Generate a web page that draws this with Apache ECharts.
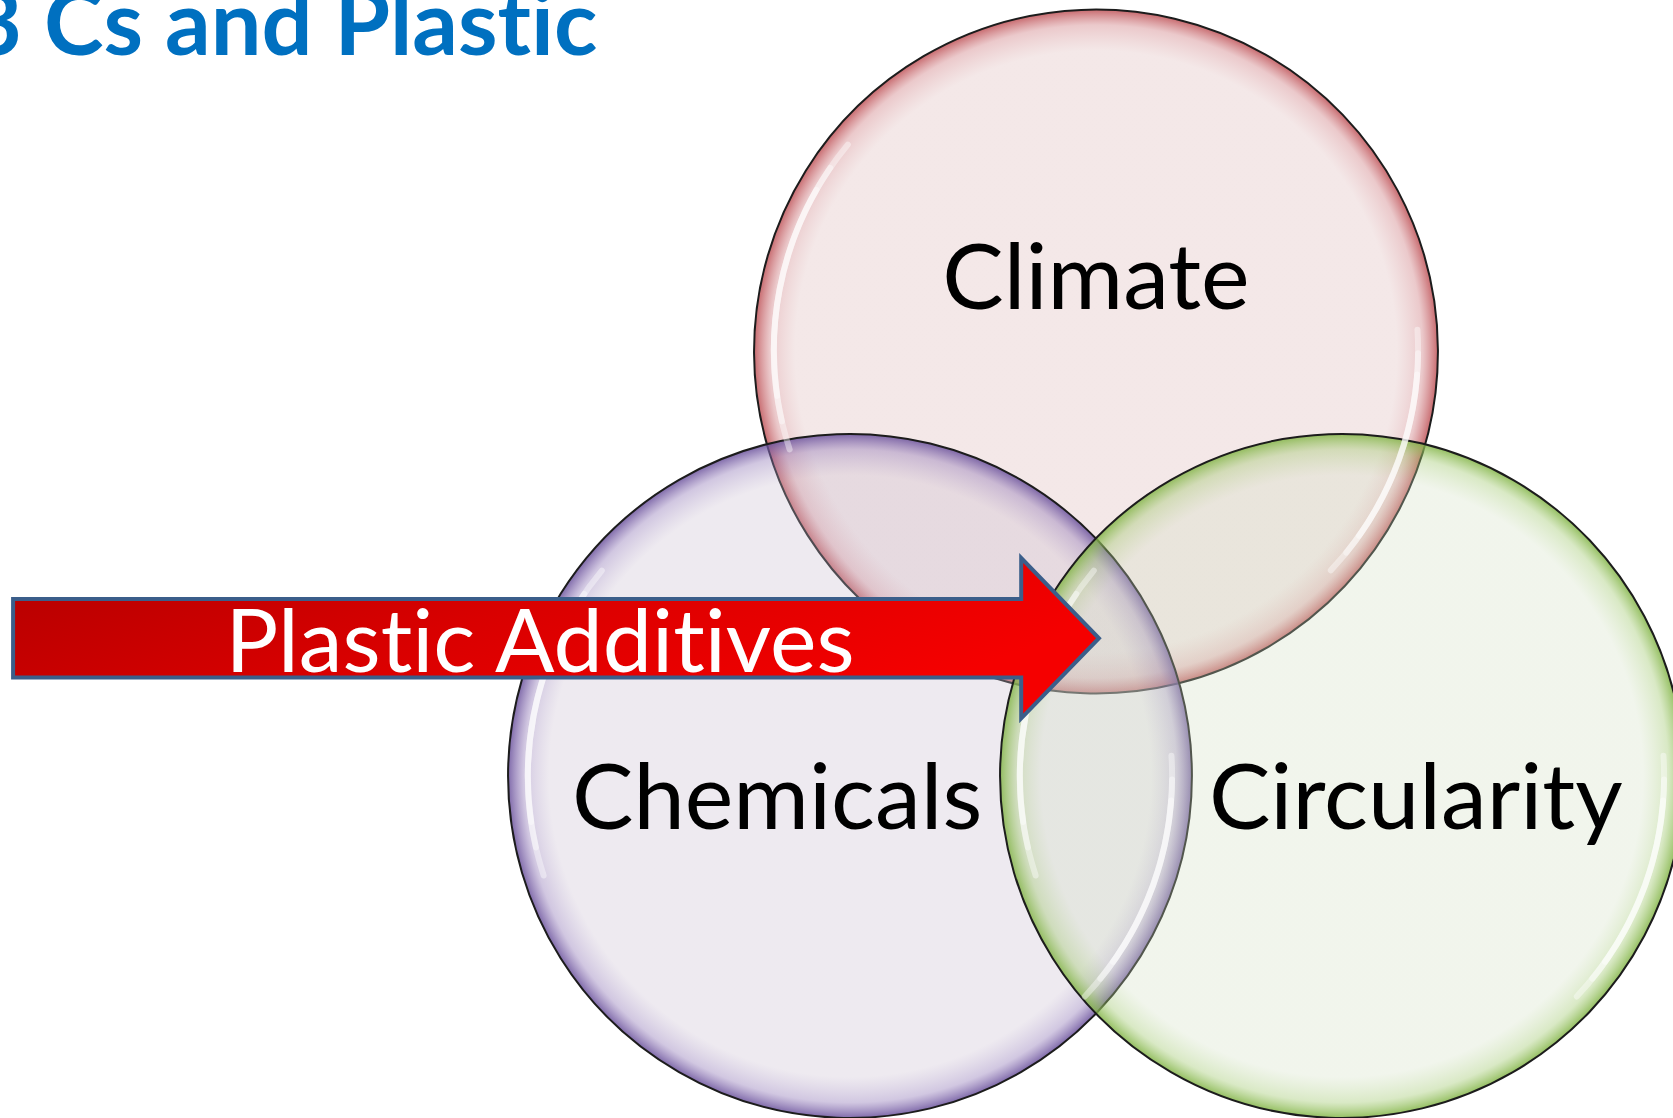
<!DOCTYPE html>
<html><head><meta charset="utf-8">
<script src="https://cdn.jsdelivr.net/npm/echarts@6/dist/echarts.min.js"></script>
<style>
html,body{margin:0;padding:0;background:#fff}
#c{width:1673px;height:1118px}
#c text{font-variant-ligatures:none !important;font-feature-settings:"liga" 0,"clig" 0 !important}
</style>
</head><body><div id="c"></div>
<script>
// ---- data (abstract Venn units) ----
const titleText = '3 Cs and Plastic';
const setNames = ['Climate', 'Chemicals', 'Circularity'];
const centerX = [0, -0.5, 0.5];
const centerY = [0.866, 0, 0];
const radius = [0.695, 0.695, 0.695];
const labelX = [0, -0.648, 0.650];
const labelY = [1.021, -0.036, -0.036];
const arrowLabel = 'Plastic Additives';
// [tailX, headBaseX, tipX, centerY, bodyHalfHeight, headHalfHeight]
const arrowShape = [-2.201, -0.152, 0.006, 0.280, 0.0800, 0.163];
const arrowLabelPos = [-1.130, 0.281];

// ---- styles ----
const innerColors = ['rgba(218,178,178,0.30)', 'rgba(198,185,205,0.30)', 'rgba(208,222,192,0.30)'];
const midColors = ['rgba(205,120,125,0.40)', 'rgba(140,115,180,0.40)', 'rgba(160,200,110,0.40)'];
const rimColors = ['rgba(190,80,85,0.85)', 'rgba(105,80,155,0.85)', 'rgba(130,180,70,0.85)'];
const FONT = 'Lato, "Open Sans", sans-serif';

const chart = echarts.init(document.getElementById('c'), null, { renderer: 'svg' });

const circleData = setNames.map((n, i) => [centerX[i], centerY[i], radius[i], labelX[i], labelY[i]]);

function glossArcs(c, r, a0, a1) {
  const out = [];
  const layers = [[0, 0.42], [0.18, 0.4], [0.34, 0.4]];
  layers.forEach(function (l) {
    const span = (a1 - a0);
    out.push({
      type: 'arc',
      shape: { cx: c[0], cy: c[1], r: r * 0.942, startAngle: a0 + span * l[0] * 0.5, endAngle: a1 - span * l[0] * 0.5 },
      style: { stroke: 'rgba(255,255,255,' + l[1] + ')', lineWidth: 6, fill: null, lineCap: 'round' },
      z2: 2
    });
  });
  return out;
}

chart.setOption({
  animation: false,
  backgroundColor: '#ffffff',
  title: {
    text: titleText,
    left: -30,
    top: -25,
    padding: 0,
    textStyle: { fontFamily: FONT, fontWeight: 'bold', fontSize: 90, color: '#0070C0' }
  },
  grid: { left: 0, right: 0, top: 0, bottom: 0 },
  xAxis: { type: 'value', min: -2.2276, max: 1.1728, show: false },
  yAxis: { type: 'value', min: -0.6951, max: 1.5772, show: false },
  series: [
    {
      type: 'custom',
      name: 'sets',
      clip: false,
      data: circleData,
      renderItem: function (params, api) {
        const i = params.dataIndex;
        const c = api.coord([api.value(0), api.value(1)]);
        const r = api.size([api.value(2), 0])[0];
        const lc = api.coord([api.value(3), api.value(4)]);
        const children = [
          {
            type: 'circle',
            shape: { cx: c[0], cy: c[1], r: r },
            style: {
              fill: {
                type: 'radial', x: 0.5, y: 0.5, r: 0.5,
                colorStops: [
                  { offset: 0, color: innerColors[i] },
                  { offset: 0.88, color: innerColors[i] },
                  { offset: 0.955, color: midColors[i] },
                  { offset: 1, color: rimColors[i] }
                ]
              },
              stroke: '#1c1c1c',
              lineWidth: 2
            },
            z2: 1
          }
        ];
        glossArcs(c, r, Math.PI * 0.90, Math.PI * 1.22).forEach(a => children.push(a));
        glossArcs(c, r, Math.PI * -0.02, Math.PI * 0.24).forEach(a => children.push(a));
        children.push({
          type: 'text',
          style: {
            x: lc[0], y: lc[1], text: setNames[i],
            fontFamily: FONT, fontSize: 92, fill: '#000',
            align: 'center', verticalAlign: 'middle'
          },
          z2: 100
        });
        return { type: 'group', children: children };
      }
    },
    {
      type: 'custom',
      name: 'arrow',
      clip: false,
      z: 5,
      data: [arrowShape.concat(arrowLabelPos)],
      renderItem: function (params, api) {
        const x0 = api.value(0), xb = api.value(1), xt = api.value(2);
        const y = api.value(3), bh = api.value(4), hh = api.value(5);
        const pts = [
          [x0, y + bh], [xb, y + bh], [xb, y + hh], [xt, y],
          [xb, y - hh], [xb, y - bh], [x0, y - bh]
        ].map(p => api.coord(p));
        const lc = api.coord([api.value(6), api.value(7)]);
        return {
          type: 'group',
          children: [
            {
              type: 'polygon',
              shape: { points: pts },
              style: {
                fill: {
                  type: 'linear', x: 0, y: 0, x2: 1, y2: 0.4,
                  colorStops: [
                    { offset: 0, color: '#B30000' },
                    { offset: 0.5, color: '#D90000' },
                    { offset: 1, color: '#F50000' }
                  ]
                },
                stroke: '#3B5E8A',
                lineWidth: 4,
                lineJoin: 'miter'
              }
            },
            {
              type: 'text',
              style: {
                x: lc[0], y: lc[1], text: arrowLabel,
                fontFamily: FONT, fontSize: 88, fill: '#ffffff',
                align: 'center', verticalAlign: 'middle'
              },
              z2: 10
            }
          ]
        };
      }
    }
  ]
});
</script>
</body></html>
